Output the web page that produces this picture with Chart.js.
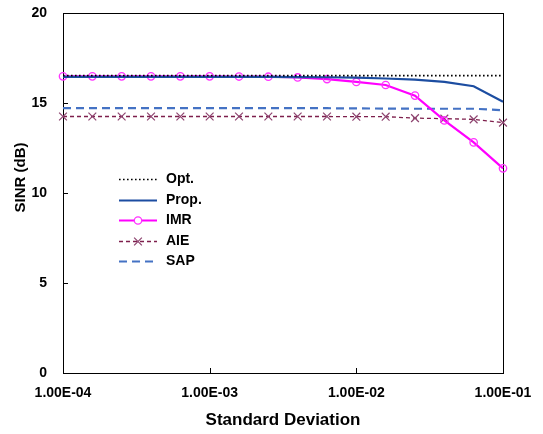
<!DOCTYPE html>
<html>
<head>
<meta charset="utf-8">
<script src="https://cdn.jsdelivr.net/npm/chart.js@4/dist/chart.umd.min.js"></script>
<style>
  html, body { margin: 0; padding: 0; background: #fff; }
  #wrap { width: 543px; height: 434px; position: relative; }
</style>
</head>
<body>
<div id="wrap"><canvas id="c" width="543" height="434"></canvas></div>
<script>
// ---- data ----
const stdDev = [1e-4, 1.585e-4, 2.512e-4, 3.981e-4, 6.31e-4,
                1e-3, 1.585e-3, 2.512e-3, 3.981e-3, 6.31e-3,
                1e-2, 1.585e-2, 2.512e-2, 3.981e-2, 6.31e-2, 1e-1];
const xTickValues = [1e-4, 1e-3, 1e-2, 1e-1];
const xTickLabels = ['1.00E-04', '1.00E-03', '1.00E-02', '1.00E-01'];
const yTickValues = [0, 5, 10, 15, 20];

const optSINR  = [16.52, 16.52, 16.52, 16.52, 16.52, 16.52, 16.52, 16.52, 16.52, 16.52, 16.52, 16.52, 16.52, 16.52, 16.52, 16.52];
const propSINR = [16.45, 16.45, 16.45, 16.45, 16.45, 16.45, 16.45, 16.45, 16.44, 16.43, 16.41, 16.36, 16.30, 16.17, 15.93, 15.07];
const imrSINR  = [16.48, 16.48, 16.48, 16.48, 16.48, 16.48, 16.47, 16.46, 16.42, 16.33, 16.17, 16.00, 15.41, 14.03, 12.81, 11.37];
const aieSINR  = [14.25, 14.25, 14.25, 14.25, 14.25, 14.25, 14.25, 14.25, 14.25, 14.25, 14.24, 14.24, 14.16, 14.13, 14.09, 13.91];
const sapSINR  = [14.71, 14.71, 14.71, 14.71, 14.71, 14.71, 14.71, 14.71, 14.71, 14.71, 14.70, 14.69, 14.68, 14.68, 14.68, 14.60];

const seriesNames = ['Opt.', 'Prop.', 'IMR', 'AIE', 'SAP'];
const xTitle = 'Standard Deviation';
const yTitle = 'SINR (dB)';

const FONT = 'Arial, "Liberation Sans", sans-serif';
const pts = arr => arr.map((v, i) => ({ x: stdDev[i], y: v }));

const datasets = [
  { label: seriesNames[0], data: pts(optSINR), borderColor: '#000000', borderWidth: 1.6,
    borderDash: [1.6, 2.4], pointRadius: 0, clip: false },
  { label: seriesNames[1], data: pts(propSINR), borderColor: '#1C4DA1', borderWidth: 2.2,
    pointRadius: 0, clip: false },
  { label: seriesNames[2], data: pts(imrSINR), borderColor: '#FF00FF', borderWidth: 2.2,
    pointStyle: 'circle', pointRadius: 3.7, pointBorderWidth: 1.3,
    pointBorderColor: '#FF33FF', pointBackgroundColor: 'rgba(255,255,255,0)', clip: false },
  { label: seriesNames[3], data: pts(aieSINR), borderColor: '#7E1F4C', borderWidth: 1.3,
    borderDash: [4, 3], pointStyle: 'crossRot', pointRadius: 5.5, pointBorderWidth: 1.2,
    pointBorderColor: '#8E4470', clip: false },
  { label: seriesNames[4], data: pts(sapSINR), borderColor: '#4472C4', borderWidth: 2.2,
    borderDash: [8, 5], pointRadius: 0, clip: false }
];

const framePlugin = {
  id: 'frame',
  beforeDatasetsDraw(chart) {
    const { ctx, chartArea: a, scales } = chart;
    ctx.save();
    ctx.strokeStyle = '#000';
    ctx.lineWidth = 1;
    ctx.strokeRect(Math.round(a.left) + 0.5, Math.round(a.top) + 0.5,
                   Math.round(a.right - a.left), Math.round(a.bottom - a.top));
    ctx.beginPath();
    xTickValues.slice(1, -1).forEach(v => {
      const px = Math.round(scales.x.getPixelForValue(v)) + 0.5;
      ctx.moveTo(px, a.bottom); ctx.lineTo(px, a.bottom - 5);
    });
    yTickValues.slice(1, -1).forEach(v => {
      const py = Math.round(scales.y.getPixelForValue(v)) + 0.5;
      ctx.moveTo(a.left, py); ctx.lineTo(a.left + 5, py);
    });
    ctx.stroke();
    ctx.restore();
  },
  afterDraw(chart) {
    const { ctx } = chart;
    ctx.save();
    ctx.translate(21, 177.5);
    ctx.rotate(-Math.PI / 2);
    ctx.font = 'bold 15px ' + FONT;
    ctx.fillStyle = '#000';
    ctx.textAlign = 'center';
    ctx.textBaseline = 'middle';
    ctx.fillText(yTitle, 0, 0);
    ctx.restore();

    ctx.save();
    const x0 = 119, x1 = 157, tx = 166, y0 = 179, dy = 20.6;
    chart.data.datasets.forEach((ds, i) => {
      const y = Math.round(y0 + i * dy) + 0.5;
      ctx.save();
      ctx.strokeStyle = ds.borderColor;
      ctx.lineWidth = ds.borderWidth;
      ctx.setLineDash(ds.borderDash || []);
      ctx.beginPath(); ctx.moveTo(x0, y); ctx.lineTo(x1, y); ctx.stroke();
      ctx.restore();
      if (ds.pointRadius > 0) {
        ctx.save();
        ctx.setLineDash([]);
        ctx.strokeStyle = ds.pointBorderColor;
        ctx.lineWidth = ds.pointBorderWidth;
        ctx.fillStyle = '#fff';
        const cx = (x0 + x1) / 2;
        if (ds.pointStyle === 'circle') {
          ctx.beginPath(); ctx.arc(cx, y, ds.pointRadius, 0, Math.PI * 2);
          ctx.fill(); ctx.stroke();
        } else {
          Chart.helpers.drawPoint(ctx, {
            pointStyle: ds.pointStyle, radius: ds.pointRadius,
            borderWidth: ds.pointBorderWidth, rotation: 0
          }, cx, y);
        }
        ctx.restore();
      }
      ctx.font = 'bold 14px ' + FONT;
      ctx.fillStyle = '#000';
      ctx.textAlign = 'left';
      ctx.textBaseline = 'middle';
      ctx.fillText(ds.label, tx, y);
    });
    ctx.restore();
  }
};

new Chart(document.getElementById('c'), {
  type: 'line',
  data: { datasets },
  plugins: [framePlugin],
  options: {
    responsive: false,
    animation: false,
    devicePixelRatio: 1,
    layout: { padding: { top: 13, right: 40, bottom: 0, left: 0 } },
    plugins: { legend: { display: false }, tooltip: { enabled: false } },
    elements: { line: { tension: 0, fill: false } },
    scales: {
      x: {
        type: 'logarithmic',
        min: xTickValues[0], max: xTickValues[xTickValues.length - 1],
        afterBuildTicks: s => { s.ticks = xTickValues.map(v => ({ value: v })); },
        afterFit: s => { s.height = 61; s.paddingLeft = 0; s.paddingRight = 0; },
        grid: { display: false, drawTicks: false },
        border: { display: false },
        ticks: {
          autoSkip: false, maxRotation: 0, padding: 12, color: '#000',
          font: { family: FONT, size: 14, weight: 'bold' },
          callback: (v) => xTickLabels[xTickValues.indexOf(v)] ?? ''
        },
        title: { display: true, text: xTitle, color: '#000',
                 font: { family: FONT, size: 17, weight: 'bold' },
                 padding: { top: 0, bottom: 3 } }
      },
      y: {
        min: yTickValues[0], max: yTickValues[yTickValues.length - 1],
        afterBuildTicks: s => { s.ticks = yTickValues.map(v => ({ value: v })); },
        afterFit: s => { s.width = 63; s.paddingTop = 0; s.paddingBottom = 0; },
        grid: { display: false, drawTicks: false },
        border: { display: false },
        ticks: { padding: 16, color: '#000',
                 font: { family: FONT, size: 14, weight: 'bold' } }
      }
    }
  }
});
</script>
</body>
</html>
